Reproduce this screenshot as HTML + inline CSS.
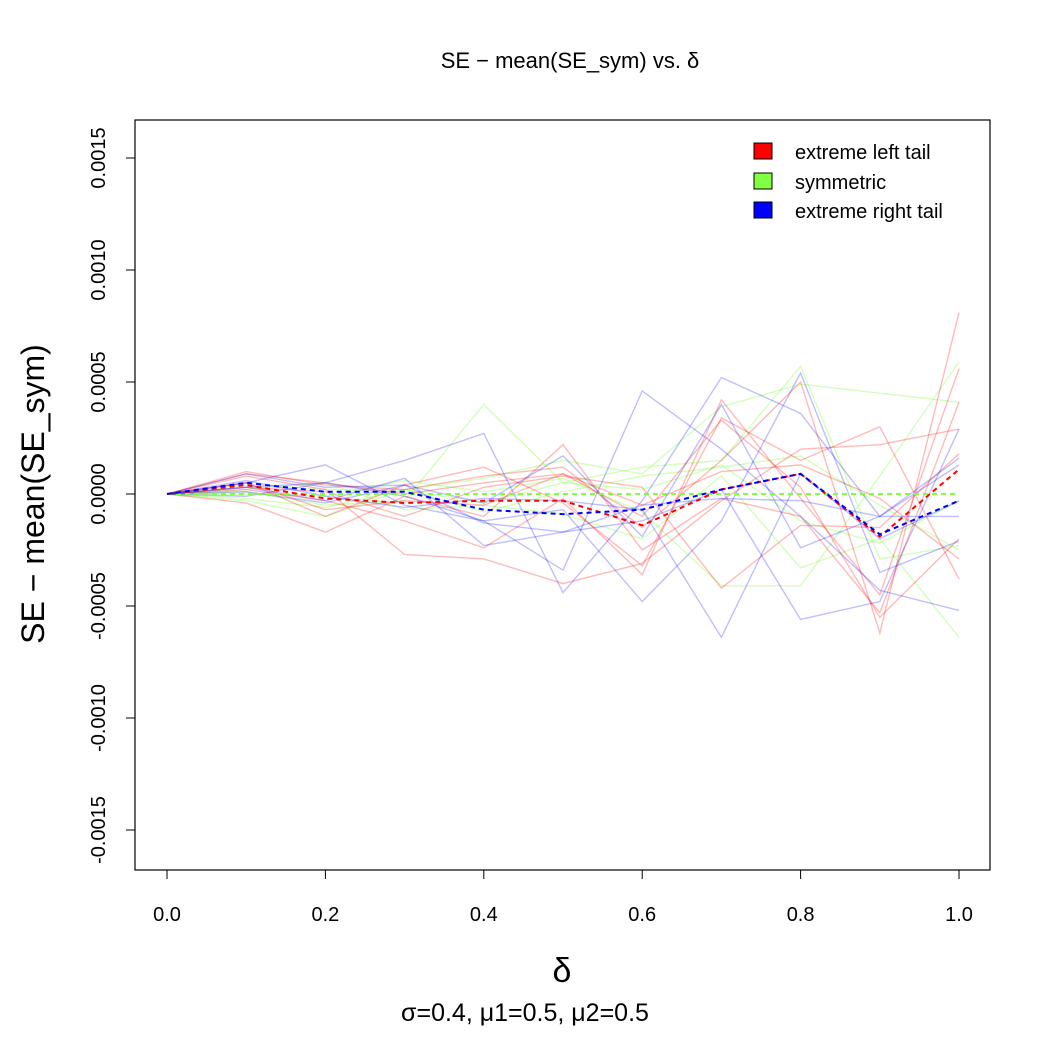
<!DOCTYPE html>
<html><head><meta charset="utf-8"><style>
body{margin:0;background:#fff}
svg text{font-family:"Liberation Sans",Arial,sans-serif;fill:#000}
</style></head><body>
<svg id="chart" width="1050" height="1050" xmlns="http://www.w3.org/2000/svg">
<rect width="1050" height="1050" fill="#fff"/>
<text x="570" y="68" font-size="22" text-anchor="middle">SE − mean(SE_sym) vs. δ</text>
<text transform="translate(44,494) rotate(-90)" font-size="32" text-anchor="middle">SE − mean(SE_sym)</text>
<text x="562" y="982" font-size="34" text-anchor="middle" font-family="Liberation Serif">δ</text>
<text x="525" y="1021" font-size="25" text-anchor="middle">σ=0.4, μ1=0.5, μ2=0.5</text>
<g id="lines"></g>
<g id="axes"></g>
<rect x="135" y="120" width="855" height="750" fill="none" stroke="#000" stroke-width="1.2"/>
<g font-size="20">
<rect x="754" y="143" width="18" height="16" fill="#f00" stroke="#000"/>
<text x="795" y="159">extreme left tail</text>
<rect x="754" y="173" width="18" height="16" fill="#80ff40" stroke="#000"/>
<text x="795" y="189">symmetric</text>
<rect x="754" y="202" width="18" height="16" fill="#00f" stroke="#000"/>
<text x="795" y="218">extreme right tail</text>
</g>
</svg>
<script>
const xValues=[0,0.1,0.2,0.3,0.4,0.5,0.6,0.7,0.8,0.9,1.0];
const xTicks=[0,0.2,0.4,0.6,0.8,1.0];
const xTickLabels=["0.0","0.2","0.4","0.6","0.8","1.0"];
const yTicks=[-0.0015,-0.001,-0.0005,0,0.0005,0.001,0.0015];
const yTickLabels=["-0.0015","-0.0010","-0.0005","0.0000","0.0005","0.0010","0.0015"];
// values in units of 1e-4
const redSeries=[
[0,0.5,-0.7,-0.3,-0.5,0.9,-1.0,3.3,0.3,-5.5,-2.0],
[0,1.0,0.4,0.2,0.8,1.2,-1.5,1.5,5.0,-6.2,8.1],
[0,0.2,-0.3,-1.2,-2.4,-0.2,-3.6,4.2,-0.2,-4.5,5.6],
[0,0.8,0.2,-2.7,-2.9,-4.0,-3.1,-0.3,2.0,2.2,2.9],
[0,-0.4,-1.7,-0.1,-1.0,2.2,-2.5,-0.2,-1.0,-5.3,4.1],
[0,0.5,-1.0,0.4,1.2,-0.4,-3.2,3.4,1.5,3.0,-3.8],
[0,0.3,0.1,-1.0,0.3,0.8,0.3,-4.2,-1.4,-1.5,1.8],
[0,0.9,0.5,0.0,0.5,0.9,-0.5,1.0,1.3,-0.2,-2.9]];
const greenSeries=[
[0,0.1,-0.5,-0.3,4.0,0.5,1.2,1.5,5.7,-2.9,-2.3],
[0,-0.3,-1.0,0.2,0.7,1.5,0.9,3.9,4.9,4.5,4.1],
[0,0.2,0.5,-0.7,-0.5,-0.9,-2.0,0.8,-3.3,-2.0,-6.4],
[0,0.0,-0.1,0.6,0.1,0.7,-0.8,-4.1,-4.1,0.8,5.9],
[0,0.4,0.2,0.2,-0.4,0.5,0.2,1.3,-1.2,-2.2,-0.3],
[0,-0.2,-0.6,0.2,-0.8,0.1,0.8,1.2,1.7,-0.5,-2.5]];
const blueSeries=[
[0,0.5,1.3,-0.5,-1.2,-3.4,4.6,2.0,-1.0,-4.3,-5.2],
[0,0.3,0.5,1.5,2.7,-4.4,-0.3,5.2,3.6,-1.0,1.6],
[0,-0.1,0.5,-0.1,-1.2,-0.7,-4.8,-1.2,5.4,-3.5,-2.1],
[0,0.3,-0.3,0.7,-2.3,-1.7,-1.2,0.2,-5.6,-4.8,2.9],
[0,0.9,0.3,0.4,-0.4,1.7,-1.9,4.0,-2.4,-1.0,1.3],
[0,0.6,-0.1,-0.6,-0.2,-0.3,-0.7,-6.4,0.9,-2.0,-0.3],
[0,0.1,-0.4,0.4,-1.3,-1.7,-0.5,-0.2,-0.3,-1.0,-1.0]];
const redMean=[0,0.4,-0.2,-0.4,-0.3,-0.3,-1.4,0.2,0.9,-1.9,1.1];
const greenMean=[0,0,0,0,0,0,0,0,0,0,0];
const blueMean=[0,0.5,0.1,0.1,-0.7,-0.9,-0.7,0.2,0.9,-1.8,-0.3];

const NS="http://www.w3.org/2000/svg";
function xs(v){return 167+v*792;}
function ys(v){return 494-v*224000;}
function poly(vals,color,op,dash,w,name){
  const p=document.createElementNS(NS,"polyline");
  p.setAttribute("points",vals.map((v,i)=>xs(xValues[i])+","+ys(v*1e-4)).join(" "));
  p.setAttribute("fill","none");p.setAttribute("stroke",color);
  p.setAttribute("stroke-opacity",op);p.setAttribute("stroke-width",w);
  if(dash)p.setAttribute("stroke-dasharray",dash);
  
  
  document.getElementById("lines").appendChild(p);
}
greenSeries.forEach((s,i)=>poly(s,"#80ff40",0.35,null,1.4,"symmetric-line-"+i));
redSeries.forEach((s,i)=>poly(s,"#ff0000",0.27,null,1.4,"left-tail-line-"+i));
blueSeries.forEach((s,i)=>poly(s,"#0000ff",0.25,null,1.4,"right-tail-line-"+i));
poly(greenMean,"#80ff40",1,"5,4",2,"symmetric-mean-line");
poly(redMean,"#ff0000",1,"5,4",2,"left-tail-mean-line");
poly(blueMean,"#0000ff",1,"5,4",2,"right-tail-mean-line");

const ax=document.getElementById("axes");
function el(tag,attrs){const e=document.createElementNS(NS,tag);for(const k in attrs)e.setAttribute(k,attrs[k]);ax.appendChild(e);return e;}
let xl=el("line",{x1:xs(xTicks[0]),x2:xs(xTicks[xTicks.length-1]),y1:870,y2:870,stroke:"#000"});


xTicks.forEach((t,i)=>{
  const l=el("line",{x1:xs(t),x2:xs(t),y1:870,y2:879,stroke:"#000"});
  
  
  const tx=el("text",{x:xs(t),y:921,"font-size":20,"text-anchor":"middle"});
  tx.textContent=xTickLabels[i];
  
  
});
let yl=el("line",{x1:135,x2:135,y1:ys(yTicks[0]),y2:ys(yTicks[yTicks.length-1]),stroke:"#000"});


yTicks.forEach((t,i)=>{
  const l=el("line",{x1:126,x2:135,y1:ys(t),y2:ys(t),stroke:"#000"});
  
  
  const tx=el("text",{transform:"translate(105,"+ys(t)+") rotate(-90)","font-size":20,"text-anchor":"middle"});
  tx.textContent=yTickLabels[i];
  
  
});
</script>
</body></html>
